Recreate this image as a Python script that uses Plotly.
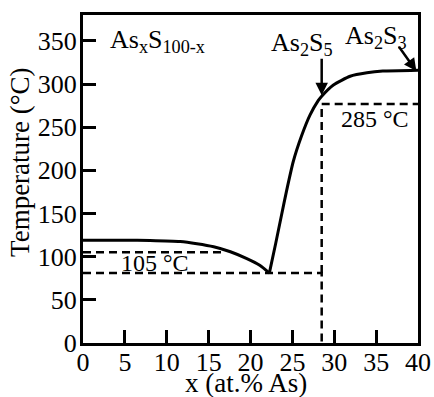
import plotly.graph_objects as go

# Liquidus curve
left_x = [0, 5, 8, 11.6, 13.6, 15.6, 17.6, 19.5, 21.1, 22.25]
left_t = [119, 119, 118.7, 117.5, 115, 111.5, 105.7, 98, 90, 81]
right_x = [22.25, 23.0, 23.7, 24.3, 25.1, 26.1, 27.1, 28.1, 28.5, 29.9, 31.9, 33.9, 35.8, 40]
right_t = [81, 115, 148, 176, 210, 240, 264, 281, 286, 299, 309, 313, 315, 316]

eutectic_t = 81
transition_low_t = 105
transition_high_t = 277
as2s5_x = 28.5

xticks = [0, 5, 10, 15, 20, 25, 30, 35, 40]
yticks = [0, 50, 100, 150, 200, 250, 300, 350]

FONT = "Liberation Serif"
FS = 26

fig = go.Figure()
fig.add_trace(go.Scatter(x=left_x, y=left_t, mode="lines", line=dict(color="black", width=3, shape="spline", smoothing=0.6)))
fig.add_trace(go.Scatter(x=right_x, y=right_t, mode="lines", line=dict(color="black", width=3, shape="spline", smoothing=0.5)))

dash = "8px,5px"
fig.add_trace(go.Scatter(x=[0, as2s5_x, as2s5_x], y=[eutectic_t, eutectic_t, 0], mode="lines",
                         line=dict(color="black", width=2.5, dash=dash)))
fig.add_trace(go.Scatter(x=[0, 16.6], y=[transition_low_t, transition_low_t], mode="lines",
                         line=dict(color="black", width=2.5, dash=dash)))
fig.add_trace(go.Scatter(x=[as2s5_x, as2s5_x], y=[eutectic_t, transition_high_t], mode="lines",
                         line=dict(color="black", width=2.5, dash=dash)))
fig.add_trace(go.Scatter(x=[as2s5_x, 40], y=[transition_high_t, transition_high_t], mode="lines",
                         line=dict(color="black", width=2.5, dash=dash)))

axis_common = dict(showline=True, linecolor="black", linewidth=3, mirror=True, ticks="inside",
                   ticklen=13, tickwidth=2.5, tickcolor="black", showgrid=False, zeroline=False,
                   automargin=False, tickfont=dict(family=FONT, size=FS, color="black"))

fig.update_layout(
    width=434, height=397, margin=dict(l=83, r=16, t=15, b=54),
    paper_bgcolor="white", plot_bgcolor="white", showlegend=False,
    font=dict(family=FONT, size=FS, color="black"),
    xaxis=dict(range=[0, 40], tickvals=xticks, ticktext=[str(v) for v in xticks],
               ticklabelstandoff=-6, **axis_common),
    yaxis=dict(range=[0, 380], tickvals=yticks, ticktext=[str(v) for v in yticks],
               ticklabelstandoff=-2, **axis_common),
)

# axis titles
fig.add_annotation(x=0.487, y=-0.122, xref="paper", yref="paper", xanchor="center", yanchor="middle",
                   text="x (at.% As)", showarrow=False, font=dict(family=FONT, size=27))
fig.add_annotation(x=-0.188, y=0.552, xref="paper", yref="paper", xanchor="center", yanchor="middle",
                   text="Temperature (°C)", textangle=-90, showarrow=False, font=dict(family=FONT, size=27))

fig.add_annotation(x=3.0, y=350, xref="x", yref="y", xanchor="left", yanchor="middle",
                   text="As<sub>x</sub>S<sub>100-x</sub>", showarrow=False, font=dict(family=FONT, size=FS))
fig.add_annotation(x=as2s5_x, y=287, ax=as2s5_x, ay=331, axref="x", ayref="y", xref="x", yref="y",
                   text="", showarrow=True, arrowhead=2, arrowsize=1, arrowwidth=2.5, arrowcolor="black")
fig.add_annotation(x=26.2, y=346, xref="x", yref="y", text="As<sub>2</sub>S<sub>5</sub>", showarrow=False,
                   font=dict(family=FONT, size=FS))
fig.add_annotation(x=39.8, y=315, ax=37.6, ay=345, axref="x", ayref="y", xref="x", yref="y",
                   text="", showarrow=True, arrowhead=2, arrowsize=1, arrowwidth=2.5, arrowcolor="black")
fig.add_annotation(x=35.0, y=355, xref="x", yref="y", text="As<sub>2</sub>S<sub>3</sub>", showarrow=False,
                   font=dict(family=FONT, size=FS))
fig.add_annotation(x=34.9, y=260, xref="x", yref="y", text="285 °C", showarrow=False,
                   font=dict(family=FONT, size=24))
fig.add_annotation(x=8.6, y=92.6, xref="x", yref="y", text="105 °C", showarrow=False,
                   font=dict(family=FONT, size=24))

fig.write_html("out.html")
